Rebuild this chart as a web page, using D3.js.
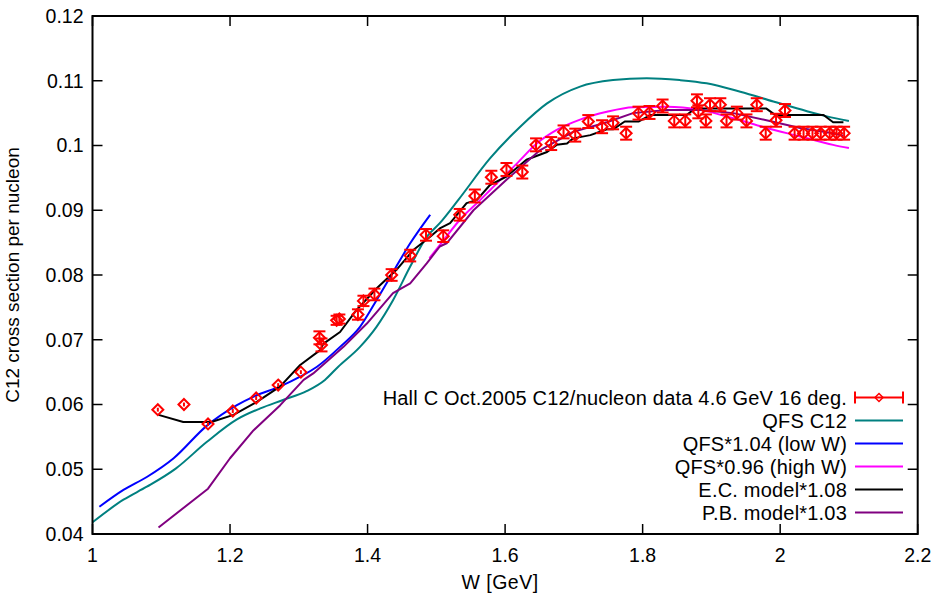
<!DOCTYPE html>
<html>
<head>
<meta charset="utf-8">
<script src="https://cdn.jsdelivr.net/npm/d3@7"></script>
<style>
  body { margin: 0; background: #fff; }
  text { font-family: "Liberation Sans", Arial, sans-serif; }
</style>
</head>
<body>
<svg id="svg1" width="935" height="602"></svg>
<script>
// data points: W [GeV], cross section, error
var dataW = [1.095,1.133,1.168,1.204,1.238,1.270,1.303,1.330,1.333,1.355,1.359,1.386,1.394,1.410,1.435,1.462,1.485,1.510,1.534,1.556,1.580,1.602,1.625,1.645,1.667,1.685,1.702,1.721,1.741,1.757,1.776,1.794,1.810,1.829,1.846,1.862,1.879,1.881,1.892,1.898,1.913,1.922,1.937,1.951,1.966,1.979,1.994,2.007,2.021,2.034,2.047,2.059,2.072,2.082,2.093];
var dataY = [0.0592,0.0600,0.0570,0.0590,0.0610,0.0630,0.0650,0.0703,0.0692,0.0730,0.0732,0.0739,0.0760,0.0770,0.0800,0.0830,0.0862,0.0860,0.0893,0.0922,0.0951,0.0963,0.0959,0.1001,0.1003,0.1021,0.1016,0.1037,0.1029,0.1035,0.1019,0.1050,0.1051,0.1061,0.1038,0.1038,0.1069,0.1052,0.1038,0.1063,0.1063,0.1038,0.1050,0.1038,0.1063,0.1019,0.1039,0.1054,0.1019,0.1019,0.1019,0.1019,0.1019,0.1019,0.1019];
var dataErr = [0.0003,0.0003,0.0003,0.0003,0.0003,0.0003,0.0003,0.0010,0.0010,0.0007,0.0007,0.0008,0.0008,0.0009,0.0009,0.0009,0.0009,0.0009,0.0009,0.0010,0.0010,0.0010,0.0010,0.0010,0.0010,0.0010,0.0010,0.0010,0.0010,0.0010,0.0010,0.0010,0.0010,0.0010,0.0010,0.0010,0.0010,0.0010,0.0010,0.0010,0.0010,0.0010,0.0010,0.0010,0.0010,0.0010,0.0010,0.0010,0.0010,0.0010,0.0010,0.0010,0.0010,0.0010,0.0010];

// QFS C12
var qfsW = [1.0,1.045,1.079,1.121,1.166,1.21,1.244,1.277,1.312,1.338,1.357,1.389,1.413,1.437,1.462,1.486,1.505,1.532,1.578,1.622,1.661,1.709,1.757,1.806,1.854,1.893,1.942,1.99,2.039,2.068,2.1];
var qfsY = [0.0418,0.0453,0.0473,0.0501,0.0542,0.0577,0.0594,0.0607,0.0621,0.0638,0.0658,0.0689,0.0720,0.0761,0.0813,0.0859,0.0880,0.0916,0.0980,0.1029,0.1065,0.1091,0.1101,0.1104,0.1101,0.1096,0.1083,0.1068,0.1053,0.1045,0.1038];
// QFS*1.04 (low W)
var qfsLowW = [1.01,1.045,1.079,1.118,1.166,1.21,1.236,1.273,1.302,1.326,1.36,1.389,1.413,1.433,1.462,1.491];
var qfsLowY = [0.0442,0.0468,0.0488,0.0517,0.0567,0.0599,0.0613,0.0628,0.0643,0.0658,0.0689,0.0720,0.0761,0.0797,0.0849,0.0893];
// QFS*0.96 (high W)
var qfsHighW = [1.49,1.505,1.534,1.564,1.578,1.617,1.646,1.675,1.709,1.748,1.786,1.835,1.884,1.932,1.98,2.029,2.077,2.1];
var qfsHighY = [0.0826,0.0846,0.0885,0.0916,0.0931,0.0972,0.1003,0.1024,0.1040,0.1052,0.1059,0.1060,0.1055,0.1042,0.1027,0.1014,0.1001,0.0996];
// E.C. model*1.08
var ecW = [1.096,1.132,1.173,1.205,1.239,1.273,1.302,1.331,1.336,1.36,1.384,1.413,1.442,1.467,1.491,1.505,1.52,1.544,1.559,1.578,1.602,1.631,1.661,1.675,1.69,1.699,1.724,1.748,1.757,1.774,1.794,1.811,1.864,1.876,1.98,1.993,2.063,2.077,2.092];
var ecY = [0.0584,0.0573,0.0573,0.0584,0.0604,0.0628,0.0661,0.0684,0.0694,0.0712,0.0746,0.0779,0.0808,0.0839,0.0859,0.0872,0.0880,0.0911,0.0916,0.0939,0.0952,0.0978,0.0990,0.1001,0.1003,0.1011,0.1016,0.1025,0.1025,0.1037,0.1037,0.1047,0.1047,0.1057,0.1057,0.1047,0.1047,0.1036,0.1036];
// P.B. model*1.03
var pbW = [1.096,1.168,1.2,1.234,1.273,1.307,1.321,1.365,1.399,1.437,1.462,1.486,1.505,1.515,1.554,1.602,1.651,1.699,1.748,1.786,1.835,1.884,1.932,1.98,2.029,2.077,2.092];
var pbY = [0.0410,0.0470,0.0517,0.0560,0.0599,0.0638,0.0648,0.0689,0.0725,0.0772,0.0787,0.0818,0.0844,0.0849,0.0900,0.0947,0.0993,0.1021,0.1036,0.1050,0.1055,0.1055,0.1050,0.1039,0.1027,0.1019,0.1015];

var xTicks = [1, 1.2, 1.4, 1.6, 1.8, 2, 2.2];
var yTicks = [0.04, 0.05, 0.06, 0.07, 0.08, 0.09, 0.1, 0.11, 0.12];
var legendLabels = ["Hall C Oct.2005 C12/nucleon data 4.6 GeV 16 deg.", "QFS C12", "QFS*1.04 (low W)", "QFS*0.96 (high W)", "E.C. model*1.08", "P.B. model*1.03"];
var legendColors = ["#ff0000", "#008080", "#0000ff", "#ff00ff", "#000000", "#800080"];

var svg = d3.select("#svg1");
var margin = {left: 92.5, right: 17.3, top: 16, bottom: 68};
var width = +svg.attr("width") - margin.left - margin.right,
    height = +svg.attr("height") - margin.top - margin.bottom;

var x = d3.scaleLinear().domain([1, 2.2]).range([0, width]);
var y = d3.scaleLinear().domain([0.04, 0.12]).range([height, 0]);

var g = svg.append("g").attr("transform", "translate(" + margin.left + "," + margin.top + ")");

// ticks pointing inward on all four sides
var tickLen = 10;
var axes = g.append("g").attr("stroke", "#000").attr("stroke-width", 1.5);
xTicks.forEach(function(t) {
  axes.append("line").attr("x1", x(t)).attr("x2", x(t)).attr("y1", height).attr("y2", height - tickLen);
  axes.append("line").attr("x1", x(t)).attr("x2", x(t)).attr("y1", 0).attr("y2", tickLen);
});
yTicks.forEach(function(t) {
  axes.append("line").attr("x1", 0).attr("x2", tickLen).attr("y1", y(t)).attr("y2", y(t));
  axes.append("line").attr("x1", width).attr("x2", width - tickLen).attr("y1", y(t)).attr("y2", y(t));
});

g.selectAll(".xlab").data(xTicks).enter().append("text")
  .attr("x", function(d) { return x(d); })
  .attr("y", height + 28)
  .attr("text-anchor", "middle")
  .attr("font-size", "19.5px")
  .text(function(d) { return d3.format("")(d); });

g.selectAll(".ylab").data(yTicks).enter().append("text")
  .attr("x", -9)
  .attr("y", function(d) { return y(d); })
  .attr("dy", "0.35em")
  .attr("text-anchor", "end")
  .attr("font-size", "19.5px")
  .text(function(d) { return d3.format("")(+d.toFixed(2)); });

svg.append("text")
  .attr("x", 500)
  .attr("y", 589)
  .attr("text-anchor", "middle")
  .attr("font-size", "19.5px")
  .attr("letter-spacing", "0.5px")
  .text("W [GeV]");

svg.append("text")
  .attr("transform", "translate(19," + (margin.top + height / 2) + ") rotate(-90)")
  .attr("text-anchor", "middle")
  .attr("font-size", "19px")
  .text("C12 cross section per nucleon");

// model curves
var plot = g.append("g");
function drawCurve(ws, vs, color, curve) {
  var pts = ws.map(function(w, i) { return [w, vs[i]]; });
  plot.append("path")
    .datum(pts)
    .attr("fill", "none")
    .attr("stroke", color)
    .attr("stroke-width", 2)
    .attr("stroke-linejoin", "round")
    .attr("d", d3.line().x(function(d) { return x(d[0]); }).y(function(d) { return y(d[1]); }).curve(curve));
}
drawCurve(qfsW, qfsY, legendColors[1], d3.curveMonotoneX);
drawCurve(qfsLowW, qfsLowY, legendColors[2], d3.curveMonotoneX);
drawCurve(qfsHighW, qfsHighY, legendColors[3], d3.curveMonotoneX);
drawCurve(ecW, ecY, legendColors[4], d3.curveLinear);
drawCurve(pbW, pbY, legendColors[5], d3.curveLinear);

// data with error bars
var cap = 6, dsz = 5.5;
var pts = plot.selectAll(".pt").data(dataW).enter().append("g")
  .attr("stroke", "#ff0000").attr("stroke-width", 2).attr("fill", "none");
pts.append("line")
  .attr("x1", function(d) { return x(d); }).attr("x2", function(d) { return x(d); })
  .attr("y1", function(d, i) { return y(dataY[i] - dataErr[i]); })
  .attr("y2", function(d, i) { return y(dataY[i] + dataErr[i]); });
pts.append("line")
  .attr("x1", function(d) { return x(d) - cap; }).attr("x2", function(d) { return x(d) + cap; })
  .attr("y1", function(d, i) { return y(dataY[i] - dataErr[i]); })
  .attr("y2", function(d, i) { return y(dataY[i] - dataErr[i]); })
  .style("display", function(d, i) { return dataErr[i] < 0.0005 ? "none" : null; });
pts.append("line")
  .attr("x1", function(d) { return x(d) - cap; }).attr("x2", function(d) { return x(d) + cap; })
  .attr("y1", function(d, i) { return y(dataY[i] + dataErr[i]); })
  .attr("y2", function(d, i) { return y(dataY[i] + dataErr[i]); })
  .style("display", function(d, i) { return dataErr[i] < 0.0005 ? "none" : null; });
pts.append("path")
  .attr("stroke-width", 2)
  .attr("d", function(d, i) {
    var cx = x(d), cy = y(dataY[i]);
    return "M" + cx + "," + (cy - dsz) + "L" + (cx + dsz) + "," + cy + "L" + cx + "," + (cy + dsz) + "L" + (cx - dsz) + "," + cy + "Z";
  });

// frame
g.append("rect").attr("width", width).attr("height", height)
  .attr("fill", "none").attr("stroke", "#000").attr("stroke-width", 2);

// legend
var legend = svg.append("g").selectAll(".legend").data(legendLabels).enter().append("g")
  .attr("transform", function(d, i) { return "translate(0," + (397.5 + i * 23) + ")"; });
legend.append("text")
  .attr("x", 847)
  .attr("dy", "0.35em")
  .attr("text-anchor", "end")
  .attr("font-size", "20px")
  .attr("letter-spacing", "0.2px")
  .text(function(d) { return d; });
legend.append("line")
  .attr("x1", 855).attr("x2", 903)
  .attr("stroke", function(d, i) { return legendColors[i]; })
  .attr("stroke-width", 2);
// error bar sample for data entry
var le = svg.append("g").attr("transform", "translate(0,397.5)")
  .attr("stroke", "#ff0000").attr("stroke-width", 2).attr("fill", "none");
le.append("line").attr("x1", 855).attr("x2", 855).attr("y1", -6).attr("y2", 6);
le.append("line").attr("x1", 903).attr("x2", 903).attr("y1", -6).attr("y2", 6);
le.append("path").attr("stroke-width", 1.5).attr("d", "M879,-4L883,0L879,4L875,0Z");
</script>
</body>
</html>
